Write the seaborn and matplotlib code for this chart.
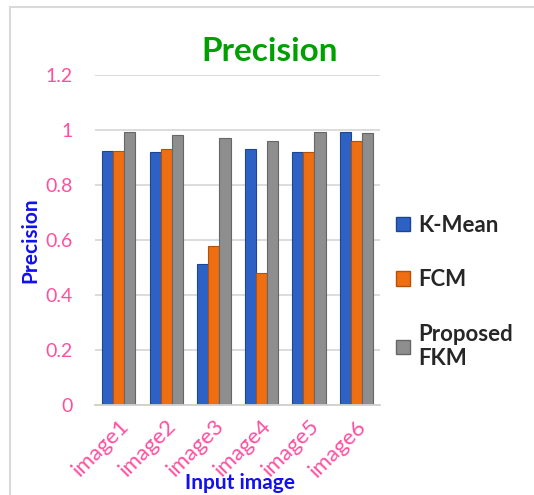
import pandas as pd
import matplotlib.pyplot as plt
import seaborn as sns
from matplotlib.patches import Rectangle, Patch

# values
images = ['image1', 'image2', 'image3', 'image4', 'image5', 'image6']
kmean = [0.924, 0.919, 0.513, 0.933, 0.919, 0.994]
fcm = [0.924, 0.930, 0.579, 0.481, 0.919, 0.961]
fkm = [0.994, 0.981, 0.970, 0.961, 0.994, 0.988]
methods = ['K-Mean', 'FCM', 'Proposed\nFKM']

df = pd.DataFrame({'image': images * 3,
                   'method': [methods[0]] * 6 + [methods[1]] * 6 + [methods[2]] * 6,
                   'precision': kmean + fcm + fkm})

colors = ['#2D62C4', '#F06E12', '#8E8E8E']
edges = ['#1D4590', '#B5500A', '#666666']

sns.set_style('white')
plt.rcParams['font.family'] = ['Lato', 'DejaVu Sans']

fig = plt.figure(figsize=(5.34, 4.95), dpi=100)
ax = fig.add_axes([0.178, 0.182, 0.534, 0.666])

sns.barplot(data=df, x='image', y='precision', hue='method', palette=colors,
            saturation=1, width=0.7, gap=0.0, legend=False, ax=ax)
for i, cont in enumerate(ax.containers):
    for bar in cont:
        bar.set_edgecolor(edges[i])
        bar.set_linewidth(0.8)

ax.set_ylim(0, 1.2)
ax.set_xlim(-0.5, 5.5)
ax.set_yticks([0, 0.2, 0.4, 0.6, 0.8, 1.0, 1.2])
ax.set_yticklabels(['0', '0.2', '0.4', '0.6', '0.8', '1', '1.2'])
ax.yaxis.grid(True, color='#D9D9D9', linewidth=1.3)
ax.set_axisbelow(True)
for s in ['top', 'right', 'left']:
    ax.spines[s].set_visible(False)
ax.spines['bottom'].set_color('#D0D0D0')
ax.spines['bottom'].set_linewidth(1.3)
ax.tick_params(axis='y', length=0, pad=16, labelsize=14, labelcolor='#FF4F9F')
ax.tick_params(axis='x', length=0, pad=8, labelsize=16, labelcolor='#FF4F9F')
plt.setp(ax.get_xticklabels(), rotation=45, ha='right', rotation_mode='anchor')

ax.set_xlabel('Input image', color='#1010F0', fontsize=15, fontweight='bold', va='center')
ax.xaxis.set_label_coords(0.509, -0.236)
ax.set_ylabel('Precision', color='#1010F0', fontsize=15, fontweight='bold', va='center')
ax.yaxis.set_label_coords(-0.228, 0.5)
fig.text(0.505, 0.877, 'Precision', color='#00A000', fontsize=24, fontweight='bold', ha='center')

handles = [Patch(facecolor=colors[i], edgecolor=edges[i]) for i in range(3)]
fig.legend(handles, methods, loc='center left', bbox_to_anchor=(0.705, 0.41),
           frameon=False, prop={'size': 16, 'weight': 'bold'},
           handlelength=0.6, handleheight=0.6, handletextpad=0.4, labelspacing=1.5)

fig.patches.append(Rectangle((0.019, -0.05), 1.2, 1.036, transform=fig.transFigure,
                             fill=False, edgecolor='#D9D9D9', linewidth=1.5))

fig.savefig('out.png', dpi=100)
